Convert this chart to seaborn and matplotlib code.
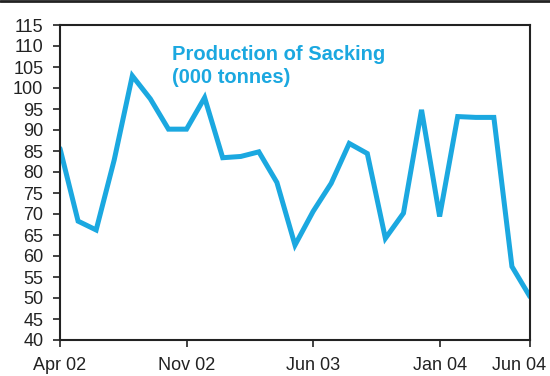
import matplotlib
matplotlib.use("Agg")
import matplotlib.pyplot as plt
import matplotlib.transforms as mtrans
import seaborn as sns
import pandas as pd
from matplotlib.lines import Line2D

months = ["Apr 02", "May 02", "Jun 02", "Jul 02", "Aug 02", "Sep 02", "Oct 02", "Nov 02",
          "Dec 02", "Jan 03", "Feb 03", "Mar 03", "Apr 03", "May 03", "Jun 03", "Jul 03",
          "Aug 03", "Sep 03", "Oct 03", "Nov 03", "Dec 03", "Jan 04", "Feb 04", "Mar 04",
          "Apr 04", "May 04", "Jun 04"]
production = [85.6, 68.3, 66.2, 82.9, 102.9, 97.4, 90.2, 90.2, 97.7, 83.4, 83.7, 84.8,
              77.5, 62.6, 70.6, 77.3, 86.8, 84.4, 64.2, 70.2, 94.8, 69.4, 93.2, 93.0,
              93.0, 57.5, 50.3]
tick_labels = ["Apr 02", "Nov 02", "Jun 03", "Jan 04", "Jun 04"]
y_ticks = list(range(40, 116, 5))

sns.set_theme(style="white")
plt.rcParams["font.family"] = ["Liberation Sans", "DejaVu Sans"]

df = pd.DataFrame({"idx": range(len(months)), "month": months, "value": production})

fig = plt.figure(figsize=(5.5, 3.76), dpi=100)
ax = fig.add_axes([60 / 550, 1 - 340 / 376, 470 / 550, 315 / 376])
blue = "#1ba8e0"
sns.lineplot(data=df, x="idx", y="value", ax=ax, color=blue, linewidth=3.6,
             solid_joinstyle="miter")

ax.set_xlim(0, len(months) - 1)
ax.set_ylim(40, 115)
ax.set_yticks(y_ticks)
ax.set_yticklabels([str(v) for v in y_ticks], fontsize=13, color="#222222")
ax.set_xticks([months.index(m) for m in tick_labels])
ax.set_xticklabels(tick_labels, fontsize=13, color="#222222")
ax.set_xlabel("")
ax.set_ylabel("")
ax.tick_params(axis="both", direction="out", length=5, width=1.2, color="#222222",
               left=True, bottom=True)
ax.tick_params(axis="y", pad=7)
ax.tick_params(axis="x", pad=7)
for s in ax.spines.values():
    s.set_visible(True)
    s.set_color("#222222")
    s.set_linewidth(1.5)

last = ax.get_xticklabels()[-1]
last.set_transform(last.get_transform() +
                   mtrans.ScaledTranslation(-11 / 100, 0, fig.dpi_scale_trans))

fig.text(172 / 550, 1 - 83 / 376, "Production of Sacking\n(000 tonnes)",
         fontsize=14.5, fontweight="bold", color=blue, va="baseline", ha="left",
         linespacing=1.3)

fig.add_artist(Line2D([0, 1], [0.997, 0.997], transform=fig.transFigure,
                      color="#222222", linewidth=2))

fig.savefig("out.png", dpi=100)
